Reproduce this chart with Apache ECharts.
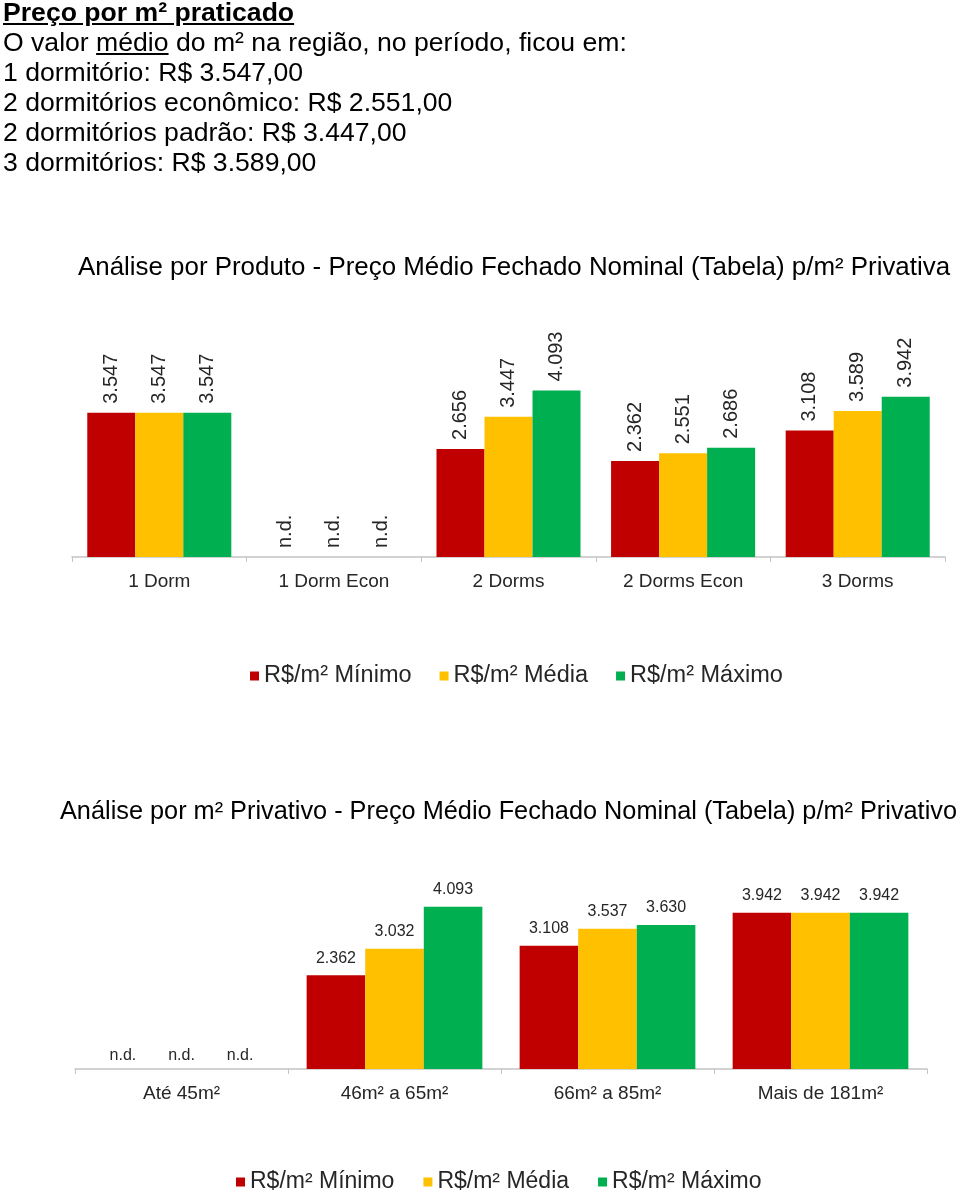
<!DOCTYPE html>
<html>
<head>
<meta charset="utf-8">
<script src="https://cdn.jsdelivr.net/npm/echarts@6/dist/echarts.min.js"></script>
<style>
  html, body { margin: 0; padding: 0; background: #fff; }
  #chart { position: absolute; left: 0; top: 0; width: 960px; height: 1195px; }
  #header { position: absolute; left: 3px; top: -3px; font-family: "Liberation Sans", Arial, sans-serif;
            font-size: 26.6px; line-height: 30px; color: #000; z-index: 2; white-space: nowrap; }
  #header .t { font-weight: bold; text-decoration: underline; }
  #header u { text-decoration: underline; }
</style>
</head>
<body>
<div id="chart"></div>
<div id="header">
  <div class="t">Preço por m² praticado</div>
  <div>O valor <u>médio</u> do m² na região, no período, ficou em:</div>
  <div>1 dormitório: R$ 3.547,00</div>
  <div>2 dormitórios econômico: R$ 2.551,00</div>
  <div>2 dormitórios padrão: R$ 3.447,00</div>
  <div>3 dormitórios: R$ 3.589,00</div>
</div>
<script>
// ---- Data ----
const seriesNames = ['R$/m² Mínimo', 'R$/m² Média', 'R$/m² Máximo'];
const colors = ['#C00000', '#FFC000', '#00B050'];

const title1 = 'Análise por Produto - Preço Médio Fechado Nominal (Tabela) p/m² Privativa';
const categories1 = ['1 Dorm', '1 Dorm Econ', '2 Dorms', '2 Dorms Econ', '3 Dorms'];
const minimo1 = [3547, null, 2656, 2362, 3108];
const media1  = [3547, null, 3447, 2551, 3589];
const maximo1 = [3547, null, 4093, 2686, 3942];

const title2 = 'Análise por m² Privativo - Preço Médio Fechado Nominal (Tabela) p/m² Privativo';
const categories2 = ['Até 45m²', '46m² a 65m²', '66m² a 85m²', 'Mais de 181m²'];
const minimo2 = [null, 2362, 3108, 3942];
const media2  = [null, 3032, 3537, 3942];
const maximo2 = [null, 4093, 3630, 3942];

const FONT = '"Liberation Sans", Arial, sans-serif';
const TXT = '#262626';

function fmt(v) { return String(v).replace(/\B(?=(\d{3})+(?!\d))/g, '.'); }
function toData(arr, ndDistance) {
  return arr.map(v => v === null
    ? { value: 0, label: { formatter: 'n.d.', distance: ndDistance } }
    : v);
}

function makeSeries(arrs, idx, labelOpt, ndDistance) {
  return arrs.map((arr, i) => ({
    name: seriesNames[i],
    type: 'bar',
    xAxisIndex: idx, yAxisIndex: idx,
    data: toData(arr, ndDistance),
    itemStyle: { color: colors[i] },
    barGap: '0%',
    barCategoryGap: '17.5%',
    animation: false,
    label: Object.assign({
      show: true,
      formatter: p => fmt(p.value),
      color: TXT,
      fontFamily: FONT
    }, labelOpt)
  }));
}

const chart = echarts.init(document.getElementById('chart'));

const xAxisCommon = {
  type: 'category',
  axisLine: { lineStyle: { color: '#c4c4c4', width: 1.5 } },
  axisTick: { show: true, length: 5, lineStyle: { color: '#c4c4c4' } },
  axisLabel: { color: TXT, fontFamily: FONT, fontSize: 19, margin: 15 }
};

const option = {
  backgroundColor: '#fff',
  animation: false,
  color: colors,
  title: [
    { text: title1, left: 73, top: 250,
      textStyle: { fontFamily: FONT, fontWeight: 'normal', fontSize: 25.9, color: '#000' } },
    { text: title2, left: 55, top: 795,
      textStyle: { fontFamily: FONT, fontWeight: 'normal', fontSize: 25.3, color: '#000' } }
  ],
  legend: [
    { data: seriesNames, left: 250, top: 664, padding: 0, icon: 'rect', itemWidth: 9, itemHeight: 9,
      itemGap: 28, selectedMode: false,
      textStyle: { fontFamily: FONT, fontSize: 23.5, color: TXT, lineHeight: 24 } },
    { data: seriesNames, left: 236, top: 1170, padding: 0, icon: 'rect', itemWidth: 9, itemHeight: 9,
      itemGap: 29, selectedMode: false,
      textStyle: { fontFamily: FONT, fontSize: 23, color: TXT, lineHeight: 24 } }
  ],
  grid: [
    { left: 72, right: 15, top: 313, bottom: 638 },
    { left: 75, right: 33, top: 831, bottom: 126 }
  ],
  xAxis: [
    Object.assign({ gridIndex: 0, data: categories1 }, xAxisCommon),
    Object.assign({ gridIndex: 1, data: categories2 }, xAxisCommon)
  ],
  yAxis: [
    { gridIndex: 0, type: 'value', min: 0, max: 6000, show: false },
    { gridIndex: 1, type: 'value', min: 0, max: 6000, show: false }
  ],
  series: [].concat(
    makeSeries([minimo1, media1, maximo1], 0,
      { position: 'top', rotate: 90, align: 'left', verticalAlign: 'middle', distance: 9, fontSize: 20 }, 9),
    makeSeries([minimo2, media2, maximo2], 1,
      { position: 'top', distance: 9, fontSize: 16 }, 5)
  )
};
chart.setOption(option);
</script>
</body>
</html>
